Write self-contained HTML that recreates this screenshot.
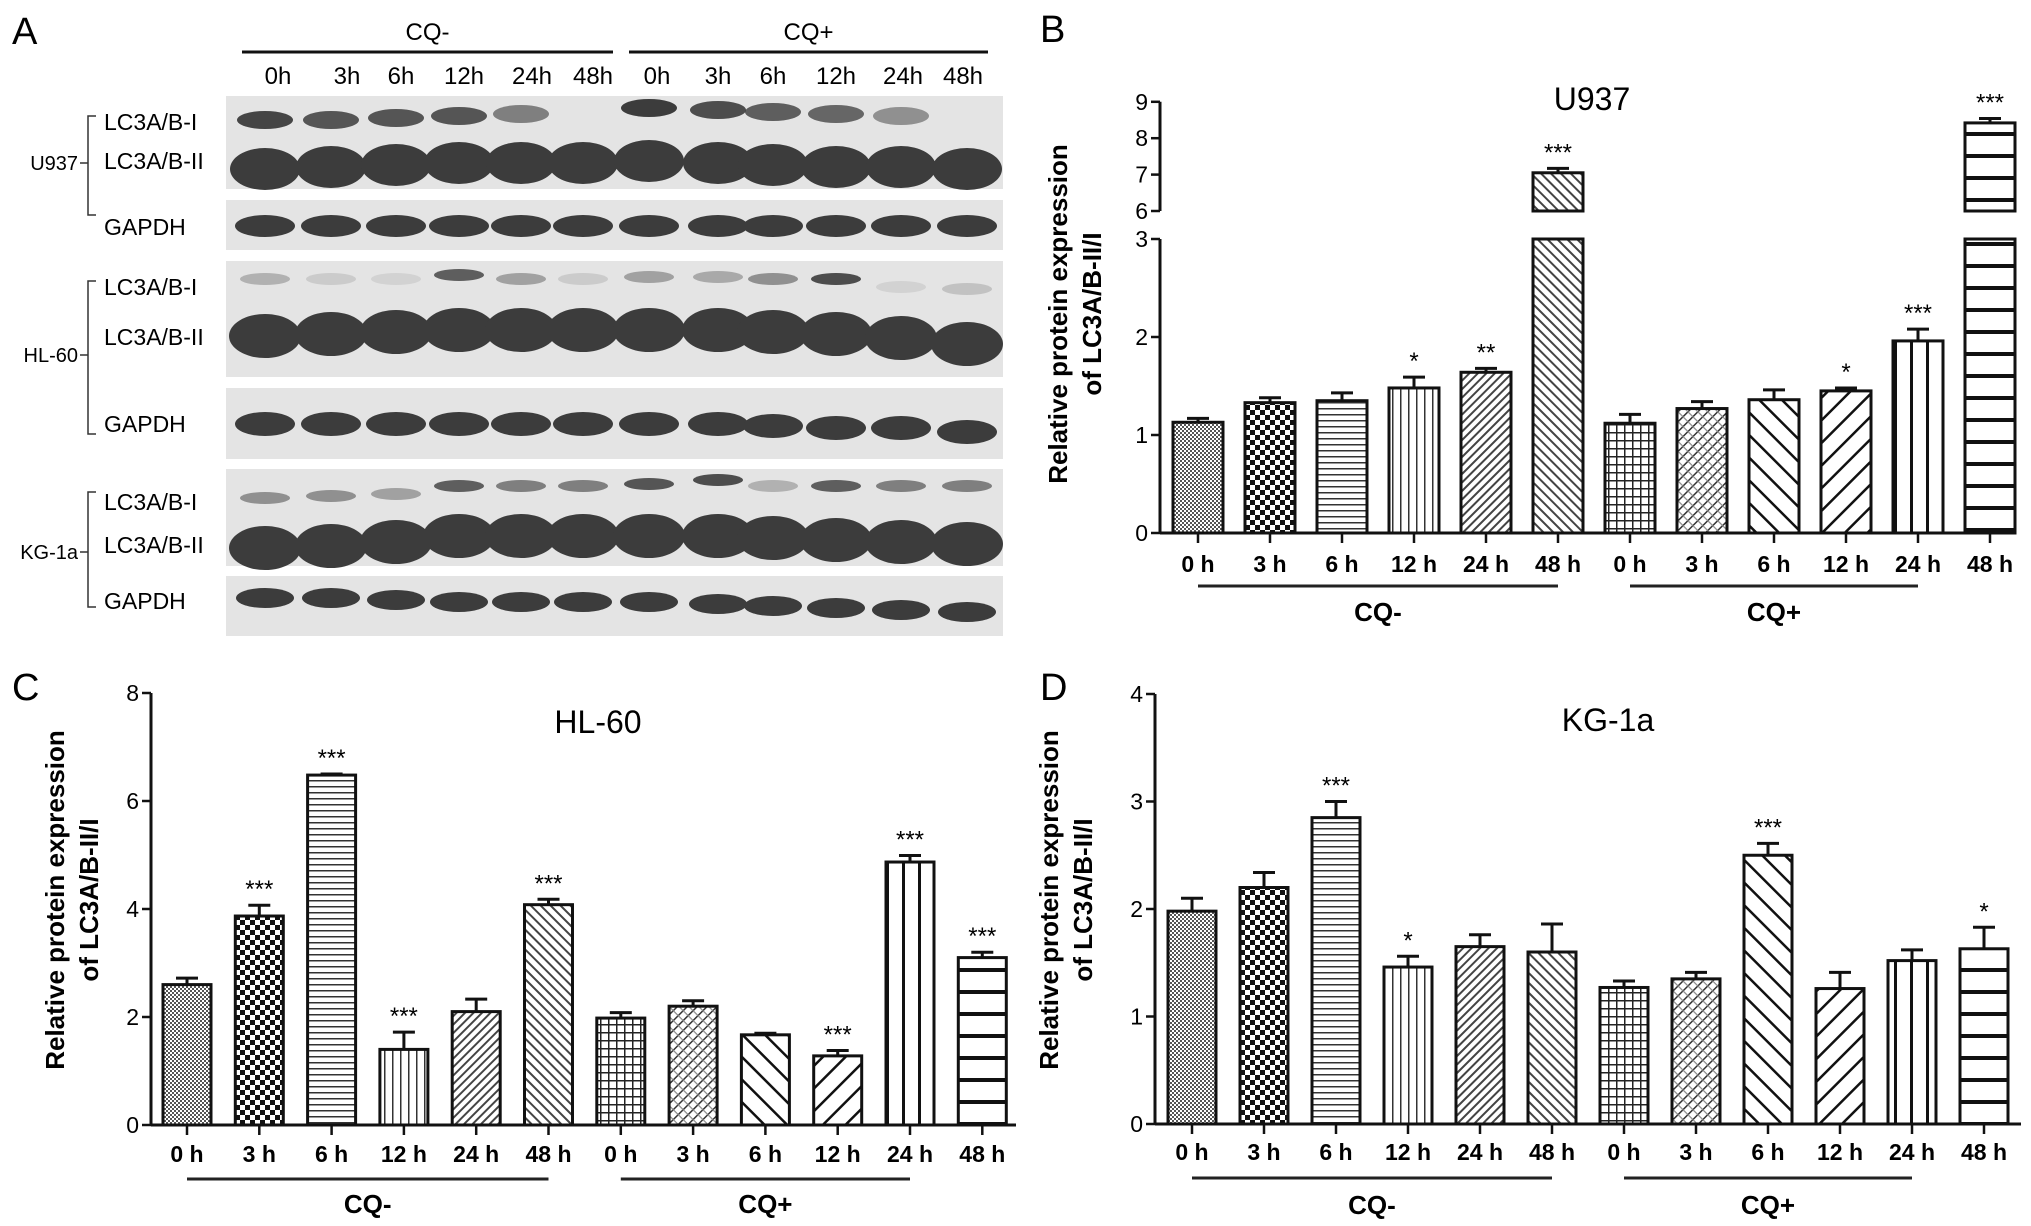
<!DOCTYPE html>
<html><head><meta charset="utf-8">
<style>
html,body{margin:0;padding:0;background:#fff;}
svg{display:block;font-family:"Liberation Sans",Arial,sans-serif;}
</style></head>
<body>
<svg id="fig" width="2031" height="1226" viewBox="0 0 2031 1226" xmlns="http://www.w3.org/2000/svg">
<defs>
<pattern id="p0" width="4" height="4" patternUnits="userSpaceOnUse"><rect width="4" height="4" fill="#fff"/><rect width="2" height="2" fill="#555"/><rect x="2" y="2" width="2" height="2" fill="#555"/></pattern>
<pattern id="p1" width="10" height="10" patternUnits="userSpaceOnUse"><rect width="10" height="10" fill="#fff"/><rect width="5" height="5" fill="#111"/><rect x="5" y="5" width="5" height="5" fill="#111"/></pattern>
<pattern id="p2" width="8" height="6" patternUnits="userSpaceOnUse"><rect width="8" height="6" fill="#fff"/><rect y="0" width="8" height="1.5" fill="#333"/></pattern>
<pattern id="p3" width="8" height="8" patternUnits="userSpaceOnUse"><rect width="8" height="8" fill="#fff"/><rect width="1.5" height="8" fill="#333"/></pattern>
<pattern id="p4" width="6" height="6" patternUnits="userSpaceOnUse" patternTransform="rotate(45)"><rect width="6" height="6" fill="#fff"/><rect width="2" height="6" fill="#444"/></pattern>
<pattern id="p5" width="7" height="7" patternUnits="userSpaceOnUse" patternTransform="rotate(-45)"><rect width="7" height="7" fill="#fff"/><rect width="2" height="7" fill="#444"/></pattern>
<pattern id="p6" width="8" height="8" patternUnits="userSpaceOnUse"><rect width="8" height="8" fill="#fff"/><rect width="1.5" height="8" fill="#222"/><rect width="8" height="1.5" fill="#222"/></pattern>
<pattern id="p7" width="7" height="7" patternUnits="userSpaceOnUse" patternTransform="rotate(45)"><rect width="7" height="7" fill="#fff"/><rect width="1.5" height="7" fill="#333"/><rect width="7" height="1.2" fill="#888"/></pattern>
<pattern id="p8" width="16" height="16" patternUnits="userSpaceOnUse" patternTransform="rotate(-45)"><rect width="16" height="16" fill="#fff"/><rect width="2.5" height="16" fill="#111"/></pattern>
<pattern id="p9" width="16" height="16" patternUnits="userSpaceOnUse" patternTransform="rotate(45)"><rect width="16" height="16" fill="#fff"/><rect width="2.5" height="16" fill="#111"/></pattern>
<pattern id="p10" width="16" height="10" patternUnits="userSpaceOnUse"><rect width="16" height="10" fill="#fff"/><rect x="6" width="3" height="10" fill="#111"/></pattern>
<pattern id="p11" width="10" height="22" patternUnits="userSpaceOnUse"><rect width="10" height="22" fill="#fff"/><rect y="0" width="10" height="4" fill="#111"/></pattern>
</defs>
<g id="panelA"></g>
<g id="panelB"></g>
<g id="panelC"></g>
<g id="panelD"></g>
</svg>
<script>
const timeLabels = ["0 h","3 h","6 h","12 h","24 h","48 h","0 h","3 h","6 h","12 h","24 h","48 h"];
const u937Values = [1.13,1.33,1.35,1.48,1.64,7.05,1.12,1.27,1.36,1.45,1.96,8.42];
const u937Errors = [0.04,0.05,0.08,0.11,0.04,0.12,0.09,0.07,0.10,0.03,0.12,0.12];
const u937Stars = ["","","","*","**","***","","","","*","***","***"];
const u937LowTicks = [0,1,2,3];
const u937HighTicks = [6,7,8,9];
const hl60Values = [2.6,3.87,6.48,1.4,2.1,4.08,1.98,2.2,1.67,1.28,4.87,3.1];
const hl60Errors = [0.12,0.2,0.02,0.32,0.23,0.1,0.1,0.1,0.03,0.1,0.12,0.1];
const hl60Stars = ["","***","***","***","","***","","","","***","***","***"];
const hl60Ticks = [0,2,4,6,8];
const kg1aValues = [1.98,2.2,2.85,1.46,1.65,1.6,1.27,1.35,2.5,1.26,1.52,1.63];
const kg1aErrors = [0.12,0.14,0.15,0.1,0.11,0.26,0.06,0.06,0.11,0.15,0.1,0.2];
const kg1aStars = ["","","***","*","","","","","***","","","*"];
const kg1aTicks = [0,1,2,3,4];

const NS="http://www.w3.org/2000/svg";
function mk(parent,tag,attrs,text){const e=document.createElementNS(NS,tag);for(const k in attrs)e.setAttribute(k,attrs[k]);if(text!==undefined)e.textContent=text;parent.appendChild(e);return e;}

function drawChart(g,cfg){
  const {axisX,zeroY,x0,step,barW,axisRight,labelY,lineY,cqY,yScale,ticks,values,errors,stars,title,titleX,titleY,letter,letterX,letterY,ytX,ytY}=cfg;
  const letterEl=mk(g,'text',{x:letterX,y:letterY,'font-size':38},letter);
  
  
  const t=mk(g,'text',{x:titleX,y:titleY,'font-size':32,'text-anchor':'middle'},title);
  
  
  const yt=mk(g,'text',{transform:`translate(${ytX},${ytY}) rotate(-90)`,'font-size':26,'font-weight':'bold','text-anchor':'middle'});
  
  
  mk(yt,'tspan',{x:0,dy:0},'Relative protein expression');
  mk(yt,'tspan',{x:0,dy:34},'of LC3A/B-II/I');
  values.forEach((v,i)=>{
    const cx=x0+i*step;
    const segs=yScale.segments(v);
    segs.forEach(s=>{
      const r=mk(g,'rect',{x:cx-barW/2,y:s[0],width:barW,height:s[1]-s[0],fill:`url(#p${i})`,stroke:'#111','stroke-width':3});
      
      
    });
    const top=yScale.y(v), et=yScale.y(v+errors[i]);
    const eb=mk(g,'path',{d:`M${cx},${top} V${et} M${cx-11},${et} H${cx+11}`,stroke:'#111','stroke-width':3,fill:'none'});
    
    
    if(stars[i]){
      const s=mk(g,'text',{x:cx,y:et-8,'font-size':24,'text-anchor':'middle'},stars[i]);
      
      
    }
    const tk=mk(g,'line',{x1:cx,y1:zeroY,x2:cx,y2:zeroY+10,stroke:'#111','stroke-width':2.5});
    
    
    const lb=mk(g,'text',{x:cx,y:labelY,'font-size':23,'font-weight':'bold','text-anchor':'middle'},timeLabels[i]);
    
    
  });
  const xa=mk(g,'line',{x1:axisX,y1:zeroY,x2:axisRight,y2:zeroY,stroke:'#111','stroke-width':3});
  
  
  yScale.axisSegs.forEach(s=>{
    const ya=mk(g,'line',{x1:axisX,y1:s[0],x2:axisX,y2:s[1],stroke:'#111','stroke-width':3});
    
    
  });
  ticks.forEach(tv=>{
    const y=yScale.y(tv);
    const tl=mk(g,'line',{x1:axisX-9,y1:y,x2:axisX,y2:y,stroke:'#111','stroke-width':2.5});
    
    
    const tt=mk(g,'text',{x:axisX-12,y:y+8,'font-size':23,'text-anchor':'end'},String(tv));
    
    
  });
  const groups=[["CQ-",0,5],["CQ+",6,10]];
  groups.forEach(gr=>{
    const xs=x0+gr[1]*step, xe=x0+gr[2]*step;
    const gl=mk(g,'line',{x1:xs,y1:lineY,x2:xe,y2:lineY,stroke:'#222','stroke-width':3});
    
    
    const gt=mk(g,'text',{x:(xs+xe)/2,y:cqY,'font-size':26,'font-weight':'bold','text-anchor':'middle'},gr[0]);
    
    
  });
}
function linScale(zeroY,pxPer,maxV){
  const y=v=>zeroY-v*pxPer;
  return {y,segments:v=>[[y(v),zeroY]],axisSegs:[[y(maxV),zeroY]]};
}
function brokenScale(zeroY,lowPx,lowMax,highStart,highStartY,highPx,highMax){
  const y=v=> v<=lowMax ? zeroY-v*lowPx : (v<highStart ? zeroY-lowMax*lowPx : highStartY-(v-highStart)*highPx);
  return {y,segments:v=> v<=lowMax?[[y(v),zeroY]]:[[y(lowMax),zeroY],[y(v),highStartY]],
    axisSegs:[[y(lowMax),zeroY],[y(highMax),highStartY]]};
}
drawChart(document.getElementById('panelB'),{axisX:1160,zeroY:533,x0:1198,step:72,barW:50,axisRight:2016,labelY:572,lineY:586,cqY:621,
  yScale:brokenScale(533,98,3,6,211,36.4,9),ticks:u937LowTicks.concat(u937HighTicks),values:u937Values,errors:u937Errors,stars:u937Stars,
  title:'U937',titleX:1592,titleY:110,letter:'B',letterX:1040,letterY:42,ytX:1067,ytY:314});
drawChart(document.getElementById('panelC'),{axisX:151,zeroY:1125,x0:187,step:72.3,barW:48,axisRight:1016,labelY:1162,lineY:1179,cqY:1213,
  yScale:linScale(1125,54,8),ticks:hl60Ticks,values:hl60Values,errors:hl60Errors,stars:hl60Stars,
  title:'HL-60',titleX:598,titleY:733,letter:'C',letterX:12,letterY:700,ytX:64,ytY:900});
drawChart(document.getElementById('panelD'),{axisX:1155,zeroY:1124,x0:1192,step:72,barW:48,axisRight:2021,labelY:1160,lineY:1178,cqY:1214,
  yScale:linScale(1124,107.5,4),ticks:kg1aTicks,values:kg1aValues,errors:kg1aErrors,stars:kg1aStars,
  title:'KG-1a',titleX:1608,titleY:731,letter:'D',letterX:1040,letterY:700,ytX:1058,ytY:900});

const A=document.getElementById('panelA');
const laneX=[265,331,396,459,521,583,649,718,773,836,901,967];
const lanePos=[278,347,401,464,532,593,657,718,773,836,903,963];
(function(){
  const l=mk(A,'text',{x:12,y:44,'font-size':38},'A');
  
  
  [["CQ-",242,613],["CQ+",629,988]].forEach(g=>{
    const ln=mk(A,'line',{x1:g[1],y1:52,x2:g[2],y2:52,stroke:'#111','stroke-width':3});
    
    
    const t=mk(A,'text',{x:(g[1]+g[2])/2,y:40,'font-size':24,'text-anchor':'middle'},g[0]);
    
    
  });
  timeLabels.forEach((s,i)=>{
    const t=mk(A,'text',{x:lanePos[i],y:84,'font-size':24,'text-anchor':'middle'},s.replace(' ',''));
    
    
  });
  const boxes=[[96,189],[200,250],[261,377],[388,459],[469,566],[576,636]];
  boxes.forEach(b=>{
    const r=mk(A,'rect',{x:226,y:b[0],width:777,height:b[1]-b[0],fill:'#e4e4e4'});
    
    
  });
  function bands(yc,h,w,ops,dy){
    laneX.forEach((x,i)=>{
      if(ops[i]<=0)return;
      const e=mk(A,'ellipse',{cx:x,cy:yc+(dy?dy[i]:0),rx:w/2,ry:h/2,fill:'#3c3c3c','fill-opacity':ops[i]});
      
      
    });
  }
  bands(120,18,56,[0.95,0.85,0.85,0.85,0.6,0,1,0.9,0.8,0.75,0.5,0],[0,0,-2,-4,-6,0,-12,-10,-8,-6,-4,0]);
  bands(165,42,70,[1,1,1,1,1,1,1,1,1,1,1,1],[4,2,0,-2,-2,-2,-4,-2,0,2,2,4]);
  bands(226,22,60,[1,1,1,1,1,1,1,1,1,1,1,1]);
  bands(279,12,50,[0.3,0.15,0.1,0.8,0.4,0.15,0.4,0.35,0.5,0.9,0.1,0.2],[0,0,0,-4,0,0,-2,-2,0,0,8,10]);
  bands(330,44,72,[1,1,1,1,1,1,1,1,1,1,1,1],[6,4,2,0,0,0,0,0,2,4,8,14]);
  bands(424,24,60,[1,1,1,1,1,1,1,1,1,1,1,1],[0,0,0,0,0,0,0,0,2,4,4,8]);
  bands(494,12,50,[0.5,0.5,0.4,0.8,0.6,0.6,0.85,0.9,0.3,0.8,0.6,0.6],[4,2,0,-8,-8,-8,-10,-14,-8,-8,-8,-8]);
  bands(540,44,72,[1,1,1,1,1,1,1,1,1,1,1,1],[8,6,2,-4,-4,-4,-4,-4,-2,0,2,4]);
  bands(602,20,58,[1,1,1,1,1,1,1,1,1,1,1,1],[-4,-4,-2,0,0,0,0,2,4,6,8,10]);
  const labs=[["LC3A/B-I",122],["LC3A/B-II",161],["GAPDH",227],["LC3A/B-I",287],["LC3A/B-II",337],["GAPDH",424],["LC3A/B-I",502],["LC3A/B-II",545],["GAPDH",601]];
  labs.forEach(l=>{
    const t=mk(A,'text',{x:104,y:l[1]+8,'font-size':23},l[0]);
    
    
  });
  const cells=[["U937",163,116,215],["HL-60",355,281,434],["KG-1a",552,492,607]];
  cells.forEach(c=>{
    const t=mk(A,'text',{x:78,y:c[1]+7,'font-size':20,'text-anchor':'end'},c[0]);
    
    
    const p=mk(A,'path',{d:`M96,${c[2]} H88 V${c[3]} H96 M88,${c[1]} H80`,stroke:'#333','stroke-width':1.5,fill:'none'});
    
    
  });
})();
</script>
</body></html>
